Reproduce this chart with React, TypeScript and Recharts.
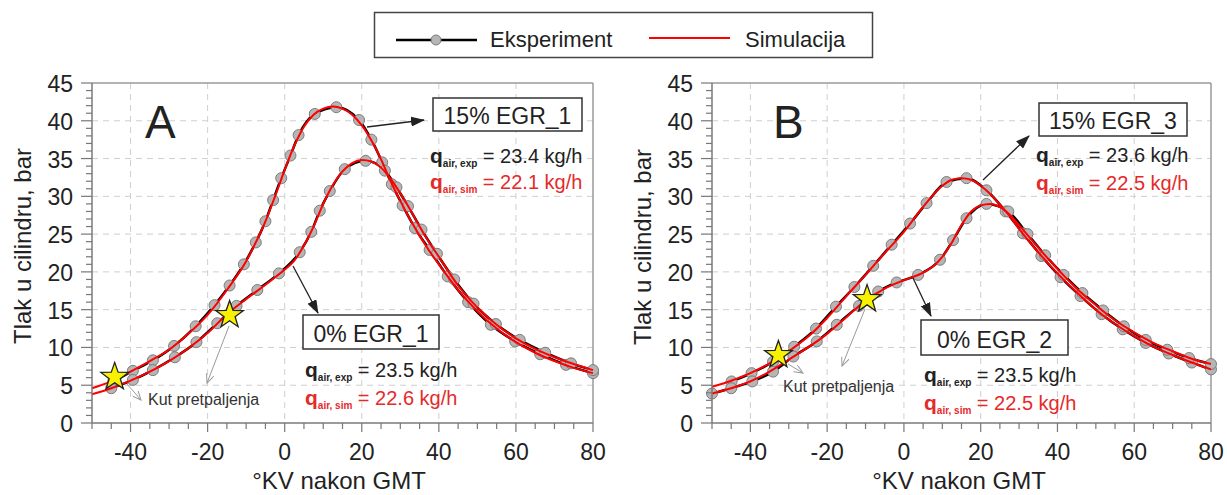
import React from 'react';
import { ComposedChart, Line, Scatter, XAxis, YAxis, CartesianGrid, ReferenceLine } from 'recharts';

const FONT = '"Liberation Sans", Arial, Helvetica, sans-serif';

// axis ticks
const xTicks = [-50, -45, -40, -35, -30, -25, -20, -15, -10, -5, 0, 5, 10, 15, 20, 25, 30, 35, 40, 45, 50, 55, 60, 65, 70, 75, 80];
const xLabelTicks = [-40, -20, 0, 20, 40, 60, 80];
const yTicks = [0, 1, 2, 3, 4, 5, 6, 7, 8, 9, 10, 11, 12, 13, 14, 15, 16, 17, 18, 19, 20, 21, 22, 23, 24, 25, 26, 27, 28, 29, 30, 31, 32, 33, 34, 35, 36, 37, 38, 39, 40, 41, 42, 43, 44, 45];
const yLabelTicks = [0, 5, 10, 15, 20, 25, 30, 35, 40, 45];
const xGrid = [-40, -20, 0, 20, 40, 60];
const yGrid = [5, 10, 15, 20, 25, 30, 35, 40];

const seriesNames = ['Eksperiment', 'Simulacija'];
const xTitle = '°KV nakon GMT';
const yTitle = 'Tlak u cilindru, bar';

// Panel A: 15% EGR_1 (upper) and 0% EGR_1 (lower)
const expA15 = [[-44.5, 5.5], [-39.4, 6.9], [-34.2, 8.3], [-28.7, 10.2], [-23.1, 12.8], [-18.2, 15.6], [-14.3, 18.2], [-10.6, 21.0], [-7.5, 23.9], [-5.0, 26.7], [-3.0, 29.5], [-0.9, 32.4], [1.5, 35.4], [3.6, 38.1], [7.8, 40.9], [13.4, 41.8], [19.3, 40.1], [22.5, 37.5], [25.3, 34.5], [27.8, 31.6], [30.6, 28.8], [33.8, 25.8], [37.6, 22.9], [42.3, 19.4], [47.6, 16.0], [53.5, 13.0], [59.8, 10.8], [66.3, 9.1], [73.0, 7.7], [80.0, 6.6]];
const simA15 = [[-50, 4.6], [-45, 5.5], [-40, 6.8], [-35, 8.2], [-30, 9.7], [-25, 11.8], [-20, 14.3], [-15, 17.6], [-10, 21.4], [-7.5, 23.9], [-5, 26.7], [-2.5, 30.0], [0, 33.5], [2.5, 36.7], [5, 39.2], [7.5, 40.8], [10, 41.6], [12.5, 41.9], [15, 41.6], [17.5, 40.8], [20, 39.4], [22.5, 37.4], [25, 34.9], [27.5, 32.0], [30, 29.4], [32.5, 27.0], [35, 24.8], [37.5, 22.8], [40, 21.0], [45, 17.6], [50, 14.8], [55, 12.5], [60, 10.7], [65, 9.3], [70, 8.2], [75, 7.3], [80, 6.6]];
const expA0 = [[-45, 4.6], [-39.4, 5.7], [-34.2, 7.0], [-28.5, 8.7], [-22.9, 10.7], [-17.5, 13.2], [-12.5, 15.5], [-7.1, 17.6], [-1.5, 19.8], [3.9, 22.6], [6.9, 25.3], [9.1, 28.1], [11.7, 30.7], [15.6, 33.6], [21.0, 34.7], [26.0, 33.4], [29.0, 31.2], [32.0, 28.7], [35.5, 25.6], [39.5, 22.4], [44.0, 19.0], [49.0, 15.8], [54.8, 13.1], [61.0, 11.0], [67.6, 9.3], [74.3, 7.9], [80.0, 7.0]];
const simA0 = [[-50, 3.8], [-45, 4.6], [-40, 5.6], [-35, 6.8], [-30, 8.2], [-25, 9.9], [-20, 11.9], [-15, 14.4], [-10, 16.4], [-5, 18.3], [0, 20.3], [2.5, 21.5], [5, 23.5], [7.5, 26.0], [10, 29.0], [12.5, 31.5], [15, 33.3], [17.5, 34.4], [20, 34.8], [22.5, 34.6], [25, 33.8], [27.5, 32.3], [30, 30.4], [32.5, 28.3], [35, 26.0], [37.5, 23.9], [40, 22.0], [45, 18.2], [50, 15.3], [55, 13.0], [60, 11.2], [65, 9.8], [70, 8.7], [75, 7.8], [80, 7.0]];
const ignitionA = [[-44.1, 6.1], [-14.3, 14.3]];

// Panel B: 15% EGR_3 (upper) and 0% EGR_2 (lower)
const expB15 = [[-44.9, 5.5], [-39.7, 6.6], [-34.1, 8.1], [-28.6, 10.1], [-22.9, 12.5], [-17.7, 15.4], [-12.9, 18.0], [-8.0, 20.8], [-3.2, 23.6], [1.6, 26.4], [5.9, 29.1], [11.1, 31.9], [16.3, 32.4], [21.5, 30.8], [26.5, 28.0], [31.0, 25.1], [35.8, 22.1], [40.8, 19.3], [46.0, 16.8], [51.5, 14.4], [57.0, 12.4], [63.0, 10.6], [69.0, 9.2], [75.0, 8.0], [80.0, 7.1]];
const simB15 = [[-50, 4.8], [-45, 5.6], [-40, 6.6], [-35, 7.9], [-30, 9.5], [-25, 11.4], [-20, 13.9], [-15, 16.8], [-10, 19.6], [-5, 22.5], [0, 25.3], [5, 28.6], [10, 31.4], [12.5, 32.2], [15, 32.4], [17.5, 32.2], [20, 31.4], [22.5, 30.3], [25, 28.9], [27.5, 27.4], [30, 25.7], [35, 22.6], [40, 19.8], [45, 17.3], [50, 15.0], [55, 13.1], [60, 11.5], [65, 10.1], [70, 9.0], [75, 8.0], [80, 7.1]];
const expB0 = [[-50, 3.9], [-45, 4.6], [-39.5, 5.5], [-34.1, 6.8], [-28.8, 8.8], [-22.7, 10.8], [-17.5, 13.0], [-11.7, 15.5], [-6.7, 17.4], [-1.9, 18.6], [3.7, 19.6], [9.4, 21.6], [12.8, 24.2], [16.3, 27.1], [21.5, 29.0], [27.2, 28.0], [32.2, 25.0], [36.8, 22.2], [41.6, 19.6], [46.5, 17.2], [51.9, 14.9], [57.3, 12.8], [63.0, 11.0], [68.6, 9.7], [74.3, 8.6], [80.0, 7.8]];
const simB0 = [[-50, 3.9], [-45, 4.6], [-40, 5.5], [-35, 6.8], [-30, 8.4], [-25, 10.0], [-20, 11.8], [-15, 14.0], [-10, 16.2], [-5, 17.8], [0, 18.9], [5, 19.9], [7.5, 20.7], [10, 22.0], [12.5, 23.9], [15, 26.2], [17.5, 28.0], [20, 28.8], [22.5, 29.0], [25, 28.6], [27.5, 27.6], [30, 26.2], [35, 23.2], [40, 20.4], [45, 17.8], [50, 15.6], [55, 13.6], [60, 12.0], [65, 10.6], [70, 9.5], [75, 8.5], [80, 7.8]];
const ignitionB = [[-32.7, 9.0], [-9.6, 16.4]];

const toPts = (a: number[][]) => a.map(([x, y]) => ({ x, y }));

const RED = '#ff0000';
const RED_TEXT = '#e52a2a';
const TEXT = '#222';

const XTick = (props: any) => {
  const { x, y, payload } = props;
  const v = payload.value;
  const major = xLabelTicks.includes(v);
  return (
    <g>
      <line x1={x} x2={x} y1={y} y2={y + (major ? 9 : 6)} stroke="#777" strokeWidth={1.2} />
      {major && (
        <text x={x} y={y + 37} textAnchor="middle" fontSize={23} fill={TEXT} fontFamily={FONT}>{v}</text>
      )}
    </g>
  );
};

const YTick = (props: any) => {
  const { x, y, payload } = props;
  const v = payload.value;
  const major = yLabelTicks.includes(v);
  return (
    <g>
      <line x1={x - (major ? 11 : 6)} x2={x} y1={y} y2={y} stroke="#777" strokeWidth={1.2} />
      {major && (
        <text x={x - 19} y={y + 9} textAnchor="end" fontSize={23} fill={TEXT} fontFamily={FONT}>{v}</text>
      )}
    </g>
  );
};

const Star = (props: any) => {
  const { cx, cy } = props;
  if (cx == null || cy == null) return null;
  let d = '';
  for (let i = 0; i < 10; i++) {
    const rad = i % 2 === 0 ? 14.5 : 5.8;
    const a = -Math.PI / 2 + (i * Math.PI) / 5;
    d += (i ? 'L' : 'M') + (cx + rad * Math.cos(a)).toFixed(1) + ',' + (cy + rad * Math.sin(a)).toFixed(1);
  }
  return <path d={d + 'Z'} fill="#f8f200" stroke="#222" strokeWidth={1.3} />;
};

// experiment markers are drawn as their own scatter so the red simulation line can sit above them
const Marker = (props: any) => {
  const { cx, cy } = props;
  if (cx == null || cy == null) return null;
  return <circle cx={cx} cy={cy} r={5.5} fill="#b5b5b5" stroke="#7c7c7c" strokeWidth={1} />;
};

function Panel({ width, right, expHigh, simHigh, expLow, simLow, ignition }: any) {
  return (
    <ComposedChart width={width} height={495} margin={{ top: 83, right, bottom: 0, left: 0 }}>
      <CartesianGrid stroke="#cfcfcf" strokeDasharray="6 5" horizontalValues={yGrid} verticalValues={xGrid} />
      <XAxis type="number" dataKey="x" domain={[-50, 80]} ticks={xTicks} interval={0} height={72}
        tickSize={0} tickMargin={0} tickLine={false} axisLine={{ stroke: '#7a7a7a', strokeWidth: 1.5 }} tick={XTick} />
      <YAxis type="number" dataKey="y" domain={[0, 45]} ticks={yTicks} interval={0} width={92}
        tickSize={0} tickMargin={0} tickLine={false} axisLine={{ stroke: '#7a7a7a', strokeWidth: 1.5 }} tick={YTick} />
      <ReferenceLine y={45} stroke="#9a9a9a" strokeWidth={1.5} />
      <ReferenceLine x={80} stroke="#9a9a9a" strokeWidth={1.5} />
      <Line data={toPts(expHigh)} dataKey="y" type="monotone" stroke="#000" strokeWidth={2.5} dot={false} isAnimationActive={false} zIndex={400} />
      <Line data={toPts(expLow)} dataKey="y" type="monotone" stroke="#000" strokeWidth={2.5} dot={false} isAnimationActive={false} zIndex={400} />
      <Scatter data={toPts(expHigh)} dataKey="y" shape={Marker} isAnimationActive={false} zIndex={410} />
      <Scatter data={toPts(expLow)} dataKey="y" shape={Marker} isAnimationActive={false} zIndex={410} />
      <Line data={toPts(simHigh)} dataKey="y" type="monotone" stroke={RED} strokeWidth={2} dot={false} isAnimationActive={false} zIndex={420} />
      <Line data={toPts(simLow)} dataKey="y" type="monotone" stroke={RED} strokeWidth={2} dot={false} isAnimationActive={false} zIndex={420} />
      <Scatter data={toPts(ignition)} dataKey="y" shape={Star} isAnimationActive={false} zIndex={700} />
    </ComposedChart>
  );
}

const QLine = ({ x, y, sub, value, color }: any) => (
  <text x={x} y={y} fill={color} fontFamily={FONT} fontSize={20}>
    <tspan fontWeight="bold" fontSize={21}>q</tspan>
    <tspan fontWeight="bold" fontSize={10} dy={4}>{sub}</tspan>
    <tspan dy={-4}>{' = ' + value}</tspan>
  </text>
);

const LabelBox = ({ x, y, w, h, text }: any) => (
  <g>
    <rect x={x} y={y} width={w} height={h} fill="#fff" stroke="#333" strokeWidth={1.5} />
    <text x={x + w / 2} y={y + h - 7} textAnchor="middle" fontSize={23} fill={TEXT} fontFamily={FONT}>{text}</text>
  </g>
);

export default function App() {
  return (
    <div style={{ position: 'absolute', left: 0, top: 0, width: 1227, height: 495, background: '#fff', fontFamily: FONT }}>
      <div style={{ position: 'absolute', left: 0, top: 0 }}>
        <Panel width={610} right={17} expHigh={expA15} simHigh={simA15} expLow={expA0} simLow={simA0} ignition={ignitionA} />
      </div>
      <div style={{ position: 'absolute', left: 620, top: 0 }}>
        <Panel width={607} right={16} expHigh={expB15} simHigh={simB15} expLow={expB0} simLow={simB0} ignition={ignitionB} />
      </div>
      <svg width={1227} height={495} style={{ position: 'absolute', left: 0, top: 0, pointerEvents: 'none' }}>
        <defs>
          <marker id="ah" markerWidth={14} markerHeight={10} refX={13} refY={5} orient="auto" markerUnits="userSpaceOnUse">
            <path d="M0,0 L14,5 L0,10 z" fill="#222" />
          </marker>
          <marker id="gh" markerWidth={10} markerHeight={8} refX={9} refY={4} orient="auto" markerUnits="userSpaceOnUse">
            <path d="M0,0 L9,4 L0,8" fill="none" stroke="#9a9a9a" strokeWidth={1} />
          </marker>
        </defs>

        {/* legend */}
        <rect x={374.5} y={12.5} width={498} height={45} fill="#fff" stroke="#444" strokeWidth={1.5} />
        <line x1={396} x2={477} y1={40} y2={40} stroke="#000" strokeWidth={2.5} />
        <circle cx={436} cy={40} r={5} fill="#b5b5b5" stroke="#7c7c7c" />
        <text x={490} y={47} fontSize={22} fill={TEXT} fontFamily={FONT}>{seriesNames[0]}</text>
        <line x1={649} x2={730} y1={38} y2={38} stroke={RED} strokeWidth={2} />
        <text x={745} y={47} fontSize={22} fill={TEXT} fontFamily={FONT}>{seriesNames[1]}</text>

        {/* axis titles */}
        <text transform="translate(31,246) rotate(-90)" textAnchor="middle" fontSize={24} fill={TEXT} fontFamily={FONT}>{yTitle}</text>
        <text transform="translate(651,247) rotate(-90)" textAnchor="middle" fontSize={24} fill={TEXT} fontFamily={FONT}>{yTitle}</text>
        <text x={339} y={489} textAnchor="middle" fontSize={24} fill={TEXT} fontFamily={FONT}>{xTitle}</text>
        <text x={959} y={489} textAnchor="middle" fontSize={24} fill={TEXT} fontFamily={FONT}>{xTitle}</text>

        {/* panel A */}
        <text x={145} y={138} fontSize={46} fill={TEXT} fontFamily={FONT}>A</text>
        <line x1={367} y1={127} x2={424} y2={120} stroke="#222" strokeWidth={1.3} markerEnd="url(#ah)" />
        <LabelBox x={433} y={98} w={149} h={33} text="15% EGR_1" />
        <QLine x={430} y={163} sub="air, exp" value="23.4 kg/h" color={TEXT} />
        <QLine x={430} y={189} sub="air, sim" value="22.1 kg/h" color={RED_TEXT} />
        <line x1={293} y1={266} x2={318} y2={313} stroke="#222" strokeWidth={1.3} markerEnd="url(#ah)" />
        <LabelBox x={303} y={315} w={136} h={34} text="0% EGR_1" />
        <QLine x={305} y={377} sub="air, exp" value="23.5 kg/h" color={TEXT} />
        <QLine x={305} y={405} sub="air, sim" value="22.6 kg/h" color={RED_TEXT} />
        <line x1={127} y1={384} x2={141} y2={400} stroke="#9a9a9a" strokeWidth={1} markerEnd="url(#gh)" />
        <line x1={229} y1={326} x2={207} y2={383} stroke="#9a9a9a" strokeWidth={1} markerEnd="url(#gh)" />
        <text x={148} y={405} fontSize={16} fill="#333" fontFamily={FONT}>Kut pretpaljenja</text>

        {/* panel B */}
        <text x={773} y={138} fontSize={46} fill={TEXT} fontFamily={FONT}>B</text>
        <line x1={983} y1={180} x2={1029} y2={136} stroke="#222" strokeWidth={1.3} markerEnd="url(#ah)" />
        <LabelBox x={1039} y={103} w={148} h={33} text="15% EGR_3" />
        <QLine x={1036} y={162} sub="air, exp" value="23.6 kg/h" color={TEXT} />
        <QLine x={1036} y={190} sub="air, sim" value="22.5 kg/h" color={RED_TEXT} />
        <line x1={913} y1={278} x2={931} y2={316} stroke="#222" strokeWidth={1.3} markerEnd="url(#ah)" />
        <LabelBox x={921} y={320} w={147} h={35} text="0% EGR_2" />
        <QLine x={924} y={382} sub="air, exp" value="23.5 kg/h" color={TEXT} />
        <QLine x={924} y={410} sub="air, sim" value="22.5 kg/h" color={RED_TEXT} />
        <line x1={788} y1={364} x2={803} y2={373} stroke="#9a9a9a" strokeWidth={1} markerEnd="url(#gh)" />
        <line x1={865} y1={309} x2={842} y2={366} stroke="#9a9a9a" strokeWidth={1} markerEnd="url(#gh)" />
        <text x={783} y={392} fontSize={16} fill="#333" fontFamily={FONT}>Kut pretpaljenja</text>
      </svg>
    </div>
  );
}
